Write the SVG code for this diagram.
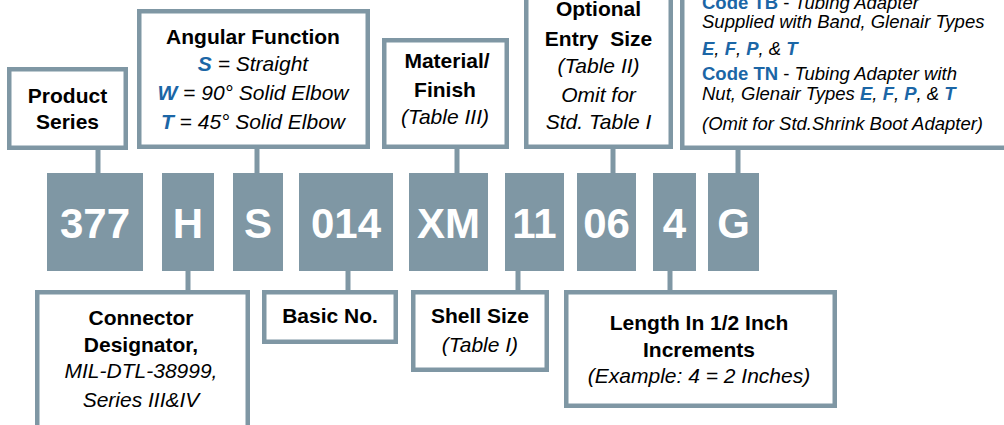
<svg xmlns="http://www.w3.org/2000/svg" width="1004" height="425" viewBox="0 0 1004 425">
<style>
text{font-family:"Liberation Sans",Arial,sans-serif;font-size:21px;fill:#000}
.c{text-anchor:middle}
.b{font-weight:bold}
.i{font-style:italic}
.bl{fill:#1b66a6;font-weight:bold}
.sm{font-size:18.5px}
.box{fill:#fff;stroke:#7f97a4;stroke-width:4.5}
.seg{fill:#7f97a4}
.seg text{fill:#fff;font-weight:bold;font-size:42px;text-anchor:middle}
.con line{stroke:#7f97a4;stroke-width:5}
</style>
<rect width="1004" height="425" fill="#fff"/>
<g class="con" id="connectors">
<line x1="98" y1="149" x2="98" y2="174"/>
<line x1="257" y1="148" x2="257" y2="174"/>
<line x1="457" y1="148" x2="457" y2="174"/>
<line x1="613" y1="148" x2="613" y2="174"/>
<line x1="738" y1="149" x2="738" y2="174"/>
<line x1="188" y1="270" x2="188" y2="291"/>
<line x1="348" y1="270" x2="348" y2="291"/>
<line x1="518" y1="270" x2="518" y2="291"/>
<line x1="670" y1="270" x2="670" y2="291"/>
</g>
<g id="product-series">
<rect class="box" x="9.25" y="69.25" width="116.5" height="78.5"/>
<text class="c b" x="67.5" y="103">Product</text>
<text class="c b" x="67.5" y="129">Series</text>
</g>
<g id="angular-function">
<rect class="box" x="139.25" y="11.25" width="228.5" height="135.5"/>
<text class="c b" x="253" y="44">Angular Function</text>
<text class="c i" x="253" y="71"><tspan class="bl">S</tspan> = Straight</text>
<text class="c i" x="253" y="100"><tspan class="bl">W</tspan> = 90° Solid Elbow</text>
<text class="c i" x="253" y="129"><tspan class="bl">T</tspan> = 45° Solid Elbow</text>
</g>
<g id="material-finish">
<rect class="box" x="384.25" y="40.25" width="122.5" height="106.5"/>
<text class="c b" x="447" y="68">Material/</text>
<text class="c b" x="445" y="97">Finish</text>
<text class="c i" x="445" y="124">(Table III)</text>
</g>
<g id="optional-entry-size">
<rect class="box" x="526.25" y="-10" width="144.5" height="156.75"/>
<text class="c b" x="598.5" y="16">Optional</text>
<text class="c b" x="598.5" y="46" style="white-space:pre">Entry  Size</text>
<text class="c i" x="598.5" y="73">(Table II)</text>
<text class="c i" x="598.5" y="102">Omit for</text>
<text class="c i" x="598.5" y="129">Std. Table I</text>
</g>
<g id="code-options">
<rect class="box" x="682.25" y="-10" width="330" height="157.75"/>
<text class="sm" x="702" y="9"><tspan class="bl">Code TB</tspan> - <tspan class="i">Tubing Adapter</tspan></text>
<text class="sm i" x="702" y="28">Supplied with Band, Glenair Types</text>
<text class="sm i" x="702" y="55"><tspan class="bl">E</tspan>, <tspan class="bl">F</tspan>, <tspan class="bl">P</tspan>, &amp; <tspan class="bl">T</tspan></text>
<text class="sm" x="702" y="80"><tspan class="bl">Code TN</tspan> - <tspan class="i">Tubing Adapter with</tspan></text>
<text class="sm i" x="702" y="100">Nut, Glenair Types <tspan class="bl">E</tspan>, <tspan class="bl">F</tspan>, <tspan class="bl">P</tspan>, &amp; <tspan class="bl">T</tspan></text>
<text class="sm i" x="702" y="130">(Omit for Std.Shrink Boot Adapter)</text>
</g>
<g class="seg" id="seg-377"><rect x="47" y="173" width="96" height="98"/><text x="95" y="238">377</text></g>
<g class="seg" id="seg-H"><rect x="162" y="173" width="52" height="98"/><text x="188" y="238">H</text></g>
<g class="seg" id="seg-S"><rect x="233" y="173" width="50" height="98"/><text x="258" y="238">S</text></g>
<g class="seg" id="seg-014"><rect x="299" y="173" width="94" height="98"/><text x="346" y="238">014</text></g>
<g class="seg" id="seg-XM"><rect x="409" y="173" width="79" height="98"/><text x="448.5" y="238">XM</text></g>
<g class="seg" id="seg-11"><rect x="505" y="173" width="59" height="98"/><text x="534.5" y="238">11</text></g>
<g class="seg" id="seg-06"><rect x="577" y="173" width="59" height="98"/><text x="606.5" y="238">06</text></g>
<g class="seg" id="seg-4"><rect x="653" y="173" width="43" height="98"/><text x="674.5" y="238">4</text></g>
<g class="seg" id="seg-G"><rect x="708" y="173" width="51" height="98"/><text x="733.5" y="238">G</text></g>
<g id="connector-designator">
<rect class="box" x="37.25" y="292.25" width="210.5" height="150"/>
<text class="c b" x="141" y="325">Connector</text>
<text class="c b" x="141" y="352">Designator,</text>
<text class="c i" x="141" y="378">MIL-DTL-38999,</text>
<text class="c i" x="141" y="407">Series III&amp;IV</text>
</g>
<g id="basic-no">
<rect class="box" x="264.25" y="292.25" width="131.5" height="49.5"/>
<text class="c b" x="330" y="323">Basic No.</text>
</g>
<g id="shell-size">
<rect class="box" x="413.25" y="292.25" width="133.5" height="77.5"/>
<text class="c b" x="480" y="323">Shell Size</text>
<text class="c i" x="480" y="352">(Table I)</text>
</g>
<g id="length">
<rect class="box" x="566.25" y="292.25" width="268.5" height="113.5"/>
<text class="c b" x="699" y="330">Length In 1/2 Inch</text>
<text class="c b" x="699" y="357">Increments</text>
<text class="c i" x="699" y="383">(Example: 4 = 2 Inches)</text>
</g>
</svg>
